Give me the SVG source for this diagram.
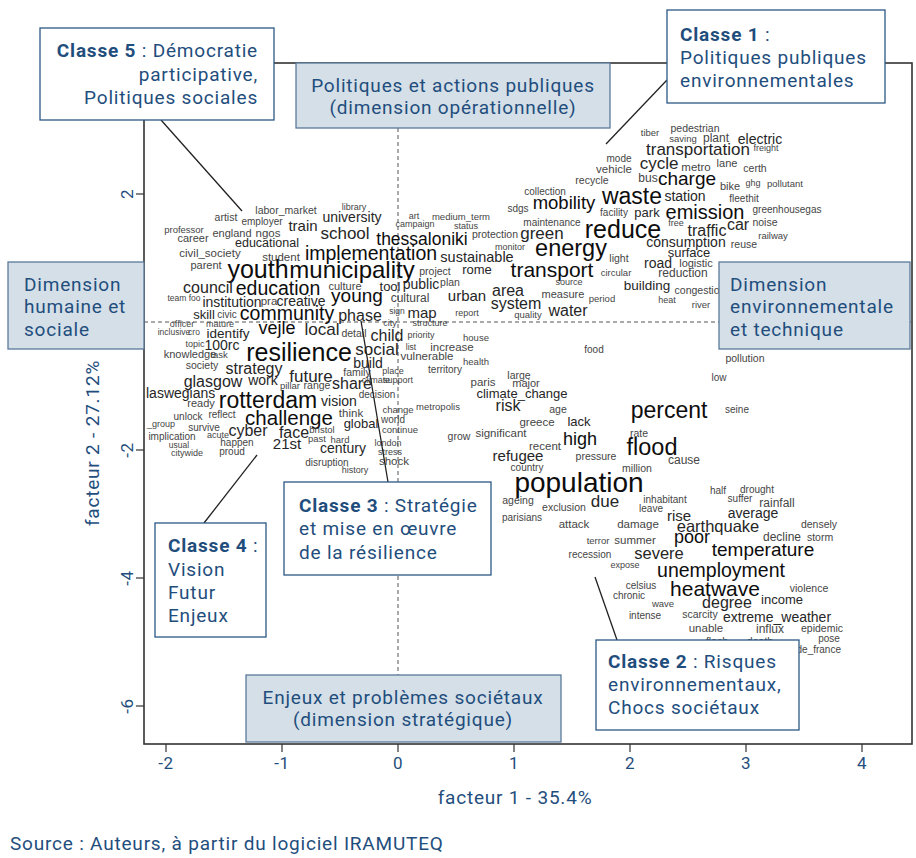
<svg xmlns="http://www.w3.org/2000/svg" width="916" height="858" viewBox="0 0 916 858">
<style>
.bg{fill:#ffffff}
.frame{fill:none;stroke:#333;stroke-width:1.6}
.dash{fill:none;stroke:#555;stroke-width:1;stroke-dasharray:4 3}
.tick{stroke:#333;stroke-width:1.2}
.lead{stroke:#222;stroke-width:1.3;fill:none}
.w{font-family:"Liberation Sans",Arial,sans-serif;text-anchor:middle;dominant-baseline:central}
.a{fill:#0d0d0d}
.b{fill:#262626}
.c{fill:#454545}
.lbl{font-family:Roboto,"Liberation Sans",sans-serif;font-size:19px;letter-spacing:0.8px;fill:#1f4e7d}
.ax{font-family:Roboto,"Liberation Sans",sans-serif;font-size:17px;letter-spacing:0.5px;fill:#1f4e7d}
.dim{fill:#d5dfe8;stroke:#5a7a9a;stroke-width:1.3}
.cls{fill:#ffffff;stroke:#2c5985;stroke-width:1.3}
</style>
<rect class="bg" x="0" y="0" width="916" height="858"/>

<g id="axes">
<rect class="frame" x="144" y="63" width="768" height="681"/>
<line class="dash" x1="398" y1="128" x2="398" y2="744"/>
<line class="dash" x1="144" y1="322" x2="912" y2="322"/>
<g class="tick">
<line x1="166" y1="744" x2="166" y2="752"/><line x1="282" y1="744" x2="282" y2="752"/><line x1="398" y1="744" x2="398" y2="752"/><line x1="514" y1="744" x2="514" y2="752"/><line x1="630" y1="744" x2="630" y2="752"/><line x1="746" y1="744" x2="746" y2="752"/><line x1="862" y1="744" x2="862" y2="752"/>
<line x1="136" y1="194" x2="144" y2="194"/><line x1="136" y1="322" x2="144" y2="322"/><line x1="136" y1="450" x2="144" y2="450"/><line x1="136" y1="578" x2="144" y2="578"/><line x1="136" y1="706" x2="144" y2="706"/>
</g>
<g class="ax" text-anchor="middle">
<text x="166" y="769">-2</text><text x="282" y="769">-1</text><text x="398" y="769">0</text><text x="514" y="769">1</text><text x="630" y="769">2</text><text x="746" y="769">3</text><text x="862" y="769">4</text>
<text transform="translate(133,194) rotate(-90)">2</text>
<text transform="translate(133,450) rotate(-90)">-2</text>
<text transform="translate(133,578) rotate(-90)">-4</text>
<text transform="translate(133,706) rotate(-90)">-6</text>
</g>
<text class="lbl" x="515" y="804" text-anchor="middle">facteur 1 - 35.4%</text>
<text class="lbl" transform="translate(99,443) rotate(-90)" text-anchor="middle">facteur 2 - 27.12%</text>
</g>

<g id="words" class="w">
<text x="286" y="210" font-size="10.5" class="c">labor_market</text>
<text x="354" y="207" font-size="9" class="c">library</text>
<text x="226" y="217" font-size="10.5" class="c">artist</text>
<text x="262" y="221" font-size="10" class="c">employer</text>
<text x="352" y="217" font-size="14" class="b">university</text>
<text x="303" y="225" font-size="15" class="b">train</text>
<text x="184" y="229" font-size="9.5" class="c">professor</text>
<text x="193" y="238" font-size="11" class="c">career</text>
<text x="232" y="233" font-size="11" class="c">england</text>
<text x="268" y="233" font-size="11.5" class="c">ngos</text>
<text x="345" y="233" font-size="17" class="b">school</text>
<text x="267" y="243" font-size="12.5" class="b">educational</text>
<text x="210" y="253" font-size="11.5" class="c">civil_society</text>
<text x="281" y="257" font-size="11.5" class="c">student</text>
<text x="371" y="253" font-size="19.5" class="a">implementation</text>
<text x="206" y="265" font-size="11" class="c">parent</text>
<text x="258" y="269" font-size="25" class="a">youth</text>
<text x="352" y="269" font-size="24" class="a">municipality</text>
<text x="208" y="287" font-size="16" class="b">council</text>
<text x="278" y="288" font-size="19.5" class="a">education</text>
<text x="345" y="286" font-size="11" class="c">culture</text>
<text x="390" y="286" font-size="13" class="b">tool</text>
<text x="357" y="295" font-size="19" class="a">young</text>
<text x="184" y="298" font-size="8.5" class="c">team foo</text>
<text x="232" y="302" font-size="14" class="b">institution</text>
<text x="269" y="301" font-size="11.5" class="c">pra</text>
<text x="301" y="301" font-size="14" class="b">creative</text>
<text x="204" y="314" font-size="13" class="b">skill</text>
<text x="227" y="314" font-size="10" class="c">civic</text>
<text x="287" y="313" font-size="19.5" class="a">community</text>
<text x="360" y="315" font-size="16" class="b">phase</text>
<text x="182" y="324" font-size="9" class="c">officer</text>
<text x="220" y="324" font-size="9" class="c">mature</text>

<text x="174" y="332" font-size="8.5" class="c">inclusive</text>
<text x="194" y="332" font-size="8.5" class="c">cro</text>
<text x="228" y="333" font-size="13.5" class="b">identify</text>
<text x="277" y="328" font-size="18" class="a">vejle</text>
<text x="322" y="329" font-size="17" class="b">local</text>
<text x="354" y="333" font-size="10.5" class="c">detail</text>
<text x="387" y="335" font-size="16" class="b">child</text>
<text x="195" y="344" font-size="9" class="c">topic</text>
<text x="222" y="345" font-size="14" class="b">100rc</text>
<text x="190" y="354" font-size="11" class="c">knowledge</text>
<text x="219" y="354" font-size="9.5" class="c">task</text>
<text x="299" y="352" font-size="25" class="a">resilience</text>
<text x="377" y="349" font-size="17" class="b">social</text>
<text x="202" y="365" font-size="10.5" class="c">society</text>
<text x="254" y="368" font-size="16" class="b">strategy</text>
<text x="368" y="363" font-size="14" class="b">build</text>
<text x="357" y="372" font-size="10.5" class="c">family</text>
<text x="393" y="371" font-size="9" class="c">place</text>
<text x="311" y="376" font-size="17" class="b">future</text>
<text x="213" y="381" font-size="16" class="b">glasgow</text>
<text x="263" y="380" font-size="14" class="b">work</text>
<text x="290" y="385" font-size="9.5" class="c">pillar</text>
<text x="317" y="385" font-size="10.5" class="c">range</text>
<text x="352" y="383" font-size="16" class="b">share</text>
<text x="376" y="380" font-size="9" class="c">climate</text>
<text x="398" y="380" font-size="9" class="c">support</text>
<text x="146" y="393" font-size="14" class="b" text-anchor="start">laswegians</text>
<text x="201" y="403" font-size="11" class="c">ready</text>
<text x="268" y="400" font-size="23" class="a">rotterdam</text>
<text x="339" y="401" font-size="14" class="b">vision</text>
<text x="377" y="394" font-size="10" class="c">decision</text>
<text x="188" y="416" font-size="10" class="c">unlock</text>
<text x="222" y="414" font-size="10" class="c">reflect</text>
<text x="289" y="417" font-size="20.5" class="a">challenge</text>
<text x="351" y="413" font-size="11.5" class="c">think</text>
<text x="361" y="423" font-size="13" class="b">global</text>
<text x="398" y="409" font-size="9.5" class="c">change</text>
<text x="438" y="406" font-size="9.5" class="c">metropolis</text>
<text x="393" y="419" font-size="10" class="c">world</text>
<text x="400" y="429" font-size="9.5" class="c">continue</text>
<text x="161" y="424" font-size="9" class="c">_group</text>
<text x="204" y="427" font-size="10" class="c">survive</text>
<text x="172" y="436" font-size="10" class="c">implication</text>
<text x="218" y="435" font-size="9" class="c">acute</text>
<text x="248" y="430" font-size="16" class="b">cyber</text>
<text x="294" y="432" font-size="16" class="b">face</text>
<text x="322" y="429" font-size="9.5" class="c">bristol</text>
<text x="317" y="438" font-size="9.5" class="c">past</text>
<text x="340" y="439" font-size="9.5" class="c">hard</text>
<text x="287" y="443" font-size="15" class="b">21st</text>
<text x="237" y="442" font-size="10" class="c">happen</text>
<text x="179" y="445" font-size="8.5" class="c">usual</text>
<text x="232" y="451" font-size="10" class="c">proud</text>
<text x="187" y="453" font-size="9" class="c">citywide</text>
<text x="343" y="448" font-size="14" class="b">century</text>
<text x="388" y="443" font-size="9" class="c">london</text>
<text x="390" y="452" font-size="9" class="c">stress</text>
<text x="394" y="461" font-size="11.5" class="c">shock</text>
<text x="327" y="462" font-size="10" class="c">disruption</text>
<text x="355" y="470" font-size="9" class="c">history</text>

<text x="414" y="216" font-size="9" class="c">art</text>
<text x="461" y="216" font-size="9.5" class="c">medium_term</text>
<text x="415" y="224" font-size="9" class="c">campaign</text>
<text x="466" y="226" font-size="9" class="c">status</text>
<text x="545" y="191" font-size="10" class="c">collection</text>
<text x="564" y="202" font-size="18.5" class="a">mobility</text>
<text x="518" y="208" font-size="10" class="c">sdgs</text>
<text x="552" y="222" font-size="10" class="c">maintenance</text>
<text x="422" y="239" font-size="17.5" class="a">thessaloniki</text>
<text x="495" y="234" font-size="10.5" class="c">protection</text>
<text x="542" y="233" font-size="17" class="b">green</text>
<text x="510" y="247" font-size="9" class="c">monitor</text>
<text x="571" y="248" font-size="23.5" class="a">energy</text>
<text x="477" y="257" font-size="14.5" class="b">sustainable</text>
<text x="435" y="271" font-size="10.5" class="c">project</text>
<text x="477" y="269" font-size="13" class="b">rome</text>
<text x="552" y="269" font-size="21" class="a">transport</text>
<text x="421" y="284" font-size="14" class="b">public</text>
<text x="450" y="282" font-size="10.5" class="c">plan</text>
<text x="569" y="282" font-size="9" class="c">source</text>
<text x="508" y="290" font-size="16" class="b">area</text>
<text x="563" y="294" font-size="11" class="c">measure</text>
<text x="467" y="295" font-size="15" class="b">urban</text>
<text x="410" y="298" font-size="12" class="c">cultural</text>
<text x="516" y="303" font-size="16" class="b">system</text>
<text x="397" y="311" font-size="8.5" class="c">sign</text>
<text x="422" y="312" font-size="15" class="b">map</text>
<text x="467" y="313" font-size="9" class="c">report</text>
<text x="528" y="314" font-size="9.5" class="c">quality</text>
<text x="568" y="310" font-size="16" class="b">water</text>
<text x="390" y="323" font-size="9" class="c">city</text>
<text x="430" y="323" font-size="9" class="c">structure</text>

<text x="650" y="132" font-size="9.5" class="c">tiber</text>
<text x="695" y="128" font-size="10.5" class="c">pedestrian</text>
<text x="683" y="138" font-size="9.5" class="c">saving</text>
<text x="716" y="138" font-size="12" class="c">plant</text>
<text x="760" y="139" font-size="14" class="b">electric</text>
<text x="766" y="148" font-size="9" class="c">freight</text>
<text x="698" y="149" font-size="17" class="b">transportation</text>
<text x="619" y="158" font-size="10" class="c">mode</text>
<text x="659" y="163" font-size="17" class="b">cycle</text>
<text x="696" y="167" font-size="11.5" class="c">metro</text>
<text x="727" y="163" font-size="11" class="c">lane</text>
<text x="755" y="168" font-size="10.5" class="c">certh</text>
<text x="614" y="169" font-size="11.5" class="c">vehicle</text>
<text x="592" y="180" font-size="10.5" class="c">recycle</text>
<text x="648" y="178" font-size="12" class="c">bus</text>
<text x="687" y="178" font-size="19" class="a">charge</text>
<text x="730" y="186" font-size="11" class="c">bike</text>
<text x="753" y="183" font-size="9" class="c">ghg</text>
<text x="785" y="183" font-size="9.5" class="c">pollutant</text>
<text x="632" y="196" font-size="23" class="a">waste</text>
<text x="685" y="196" font-size="14" class="b">station</text>
<text x="744" y="198" font-size="10" class="c">fleethit</text>
<text x="614" y="212" font-size="10" class="c">facility</text>
<text x="647" y="212" font-size="13" class="b">park</text>
<text x="705" y="212" font-size="20" class="a">emission</text>
<text x="787" y="209" font-size="10" class="c">greenhousegas</text>
<text x="623" y="229" font-size="25" class="a">reduce</text>
<text x="676" y="223" font-size="9" class="c">free</text>
<text x="707" y="230" font-size="16" class="b">traffic</text>
<text x="738" y="224" font-size="16" class="b">car</text>
<text x="765" y="222" font-size="10.5" class="c">noise</text>
<text x="773" y="235" font-size="9.5" class="c">railway</text>
<text x="686" y="242" font-size="14" class="b">consumption</text>
<text x="744" y="244" font-size="10.5" class="c">reuse</text>
<text x="689" y="252" font-size="13" class="b">surface</text>
<text x="619" y="258" font-size="10.5" class="c">light</text>
<text x="658" y="263" font-size="14" class="b">road</text>
<text x="696" y="263" font-size="11" class="c">logistic</text>
<text x="616" y="272" font-size="9.5" class="c">circular</text>
<text x="683" y="273" font-size="12" class="c">reduction</text>
<text x="647" y="285" font-size="13.5" class="b">building</text>
<text x="700" y="290" font-size="10.5" class="c">congestion</text>
<text x="602" y="298" font-size="9.5" class="c">period</text>
<text x="667" y="300" font-size="9" class="c">heat</text>
<text x="701" y="304" font-size="9.5" class="c">river</text>

<text x="421" y="335" font-size="9" class="c">priority</text>
<text x="476" y="337" font-size="9.5" class="c">house</text>
<text x="411" y="347" font-size="8.5" class="c">list</text>
<text x="452" y="347" font-size="11.5" class="c">increase</text>
<text x="427" y="356" font-size="11.5" class="c">vulnerable</text>
<text x="476" y="361" font-size="9.5" class="c">health</text>
<text x="445" y="369" font-size="10" class="c">territory</text>
<text x="594" y="349" font-size="10" class="c">food</text>
<text x="519" y="375" font-size="10.5" class="c">large</text>
<text x="483" y="382" font-size="11.5" class="c">paris</text>
<text x="526" y="383" font-size="11" class="c">major</text>
<text x="522" y="393" font-size="13" class="b">climate_change</text>
<text x="508" y="405" font-size="16" class="b">risk</text>
<text x="558" y="409" font-size="10.5" class="c">age</text>
<text x="537" y="422" font-size="11.5" class="c">greece</text>
<text x="579" y="421" font-size="13" class="b">lack</text>
<text x="459" y="436" font-size="10.5" class="c">grow</text>
<text x="501" y="433" font-size="11.5" class="c">significant</text>
<text x="580" y="439" font-size="18" class="a">high</text>
<text x="545" y="446" font-size="11.5" class="c">recent</text>
<text x="518" y="455" font-size="15" class="b">refugee</text>
<text x="596" y="456" font-size="10.5" class="c">pressure</text>
<text x="527" y="467" font-size="10" class="c">country</text>
<text x="745" y="358" font-size="10.5" class="c">pollution</text>
<text x="719" y="377" font-size="10" class="c">low</text>
<text x="669" y="410" font-size="23" class="a">percent</text>
<text x="737" y="409" font-size="10" class="c">seine</text>
<text x="639" y="433" font-size="10.5" class="c">rate</text>
<text x="652" y="447" font-size="23.5" class="a">flood</text>
<text x="684" y="460" font-size="12" class="c">cause</text>
<text x="637" y="468" font-size="10.5" class="c">million</text>
<text x="579" y="482" font-size="28" class="a">population</text>
<text x="718" y="490" font-size="10" class="c">half</text>
<text x="757" y="489" font-size="10" class="c">drought</text>
<text x="518" y="500" font-size="10.5" class="c">ageing</text>
<text x="605" y="501" font-size="17" class="b">due</text>
<text x="665" y="499" font-size="10" class="c">inhabitant</text>
<text x="740" y="498" font-size="10" class="c">suffer</text>
<text x="777" y="503" font-size="12" class="c">rainfall</text>
<text x="564" y="507" font-size="10.5" class="c">exclusion</text>
<text x="651" y="508" font-size="10" class="c">leave</text>
<text x="679" y="515" font-size="15" class="b">rise</text>
<text x="753" y="513" font-size="14" class="b">average</text>
<text x="522" y="517" font-size="10" class="c">parisians</text>
<text x="574" y="524" font-size="11.5" class="c">attack</text>
<text x="638" y="524" font-size="11.5" class="c">damage</text>
<text x="718" y="526" font-size="16.5" class="b">earthquake</text>
<text x="819" y="524" font-size="10.5" class="c">densely</text>
<text x="598" y="540" font-size="9.5" class="c">terror</text>
<text x="635" y="540" font-size="11.5" class="c">summer</text>
<text x="692" y="537" font-size="18" class="a">poor</text>
<text x="782" y="537" font-size="12" class="c">decline</text>
<text x="820" y="537" font-size="10.5" class="c">storm</text>
<text x="763" y="549" font-size="19" class="a">temperature</text>
<text x="590" y="554" font-size="10" class="c">recession</text>
<text x="659" y="553" font-size="16.5" class="b">severe</text>
<text x="625" y="565" font-size="9" class="c">expose</text>
<text x="721" y="570" font-size="19.5" class="a">unemployment</text>
<text x="641" y="585" font-size="10" class="c">celsius</text>
<text x="629" y="595" font-size="10" class="c">chronic</text>
<text x="715" y="588" font-size="21" class="a">heatwave</text>
<text x="809" y="588" font-size="10.5" class="c">violence</text>
<text x="663" y="603" font-size="9.5" class="c">wave</text>
<text x="727" y="602" font-size="16" class="b">degree</text>
<text x="782" y="599" font-size="13" class="b">income</text>
<text x="645" y="615" font-size="10" class="c">intense</text>
<text x="700" y="614" font-size="10.5" class="c">scarcity</text>
<text x="777" y="617" font-size="14" class="b">extreme_weather</text>
<text x="706" y="628" font-size="11.5" class="c">unable</text>
<text x="770" y="629" font-size="12" class="c">influx</text>
<text x="822" y="628" font-size="10.5" class="c">epidemic</text>
<text x="829" y="638" font-size="10" class="c">pose</text>
<text x="717" y="641" font-size="10.5" class="c">flash</text>
<text x="760" y="641" font-size="10.5" class="c">death</text>
<text x="841" y="649" font-size="10" class="c" text-anchor="end">ile_de_france</text>
</g>

<g id="connectors">
<line class="lead" x1="161" y1="120" x2="242" y2="211"/>
<line class="lead" x1="667" y1="80" x2="606" y2="144"/>
<line class="lead" x1="204" y1="523" x2="257" y2="455"/>
<line class="lead" x1="361" y1="321" x2="388" y2="482"/>
<line class="lead" x1="595" y1="577" x2="617" y2="640"/>
</g>

<g id="dim-operationnelle">
<rect class="dim" x="296" y="63" width="314" height="65"/>
<text class="lbl" x="453" y="92" text-anchor="middle">Politiques et actions publiques</text>
<text class="lbl" x="453" y="114" text-anchor="middle">(dimension opérationnelle)</text>
</g>
<g id="dim-humaine">
<rect class="dim" x="8" y="262" width="136" height="87"/>
<text class="lbl" x="24" y="291">Dimension</text>
<text class="lbl" x="24" y="313">humaine et</text>
<text class="lbl" x="24" y="336">sociale</text>
</g>
<g id="dim-environnementale">
<rect class="dim" x="719" y="262" width="191" height="87"/>
<text class="lbl" x="730" y="291">Dimension</text>
<text class="lbl" x="730" y="313">environnementale</text>
<text class="lbl" x="730" y="336">et technique</text>
</g>
<g id="dim-strategique">
<rect class="dim" x="246" y="675" width="315" height="67"/>
<text class="lbl" x="403" y="704" text-anchor="middle">Enjeux et problèmes sociétaux</text>
<text class="lbl" x="403" y="726" text-anchor="middle">(dimension stratégique)</text>
</g>

<g id="classe5">
<rect class="cls" x="40" y="28" width="234" height="92"/>
<text class="lbl" x="258" y="57" text-anchor="end"><tspan font-weight="bold">Classe 5</tspan> : Démocratie</text>
<text class="lbl" x="258" y="81" text-anchor="end">participative,</text>
<text class="lbl" x="258" y="104" text-anchor="end">Politiques sociales</text>
</g>
<g id="classe1">
<rect class="cls" x="667" y="10" width="218" height="93"/>
<text class="lbl" x="680" y="41"><tspan font-weight="bold">Classe 1</tspan> :</text>
<text class="lbl" x="680" y="64">Politiques publiques</text>
<text class="lbl" x="680" y="87">environnementales</text>
</g>
<g id="classe4">
<rect class="cls" x="155" y="523" width="111" height="114"/>
<text class="lbl" x="168" y="552"><tspan font-weight="bold">Classe 4</tspan> :</text>
<text class="lbl" x="168" y="576">Vision</text>
<text class="lbl" x="168" y="599">Futur</text>
<text class="lbl" x="168" y="622">Enjeux</text>
</g>
<g id="classe3">
<rect class="cls" x="284" y="482" width="207" height="93"/>
<text class="lbl" x="299" y="512"><tspan font-weight="bold">Classe 3</tspan> : Stratégie</text>
<text class="lbl" x="299" y="535">et mise en œuvre</text>
<text class="lbl" x="299" y="559">de la résilience</text>
</g>
<g id="classe2">
<rect class="cls" x="596" y="640" width="203" height="90"/>
<text class="lbl" x="608" y="668"><tspan font-weight="bold">Classe 2</tspan> : Risques</text>
<text class="lbl" x="608" y="691">environnementaux,</text>
<text class="lbl" x="608" y="714">Chocs sociétaux</text>
</g>

<text class="lbl" x="10" y="850">Source : Auteurs, à partir du logiciel IRAMUTEQ</text>
</svg>
